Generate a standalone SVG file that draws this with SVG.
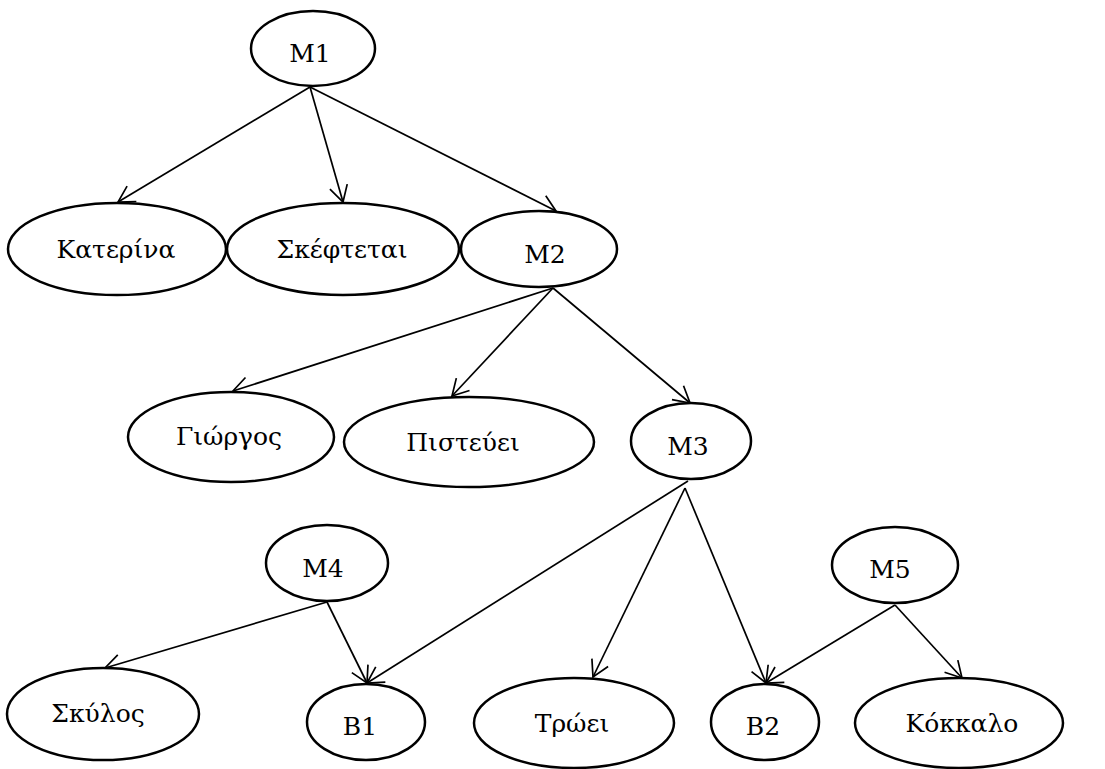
<svg xmlns="http://www.w3.org/2000/svg" width="1105" height="769" viewBox="0 0 1105 769">
  <style>
    .node ellipse { fill: #fff; stroke: #000; stroke-width: 2.5; }
    .node text { font-family: 'DejaVu Serif', serif; font-size: 25px; fill: #000; text-anchor: middle; }
    .edge { stroke: #000; stroke-width: 1.7; fill: none; marker-end: url(#arrow); }
  </style>
  <defs>
    <!-- open V arrowhead, tip placed on the target ellipse -->
    <marker id="arrow" markerUnits="userSpaceOnUse" markerWidth="24" markerHeight="24" refX="16" refY="9" orient="auto" overflow="visible">
      <path d="M0,0 L16,9 L0,18" fill="none" stroke="#000" stroke-width="1.7"/>
    </marker>
  </defs>

  <g id="connectors">
    <line class="edge" x1="310" y1="87" x2="118" y2="202"/>
    <line class="edge" x1="310" y1="87" x2="343" y2="202"/>
    <line class="edge" x1="310" y1="87" x2="556" y2="211"/>
    <line class="edge" x1="553" y1="288" x2="233" y2="391"/>
    <line class="edge" x1="553" y1="288" x2="452" y2="396"/>
    <line class="edge" x1="553" y1="288" x2="690" y2="403"/>
    <line class="edge" x1="688" y1="481" x2="367" y2="683"/>
    <line class="edge" x1="685" y1="488" x2="593" y2="677"/>
    <line class="edge" x1="685" y1="488" x2="766" y2="683"/>
    <line class="edge" x1="327" y1="602" x2="105" y2="668"/>
    <line class="edge" x1="327" y1="602" x2="367" y2="683"/>
    <line class="edge" x1="895" y1="605" x2="766" y2="683"/>
    <line class="edge" x1="895" y1="605" x2="962" y2="678"/>
  </g>

  <g id="M1" class="node"><ellipse cx="313" cy="48.5" rx="62" ry="37.5"/><text x="310" y="62">M1</text></g>
  <g id="Katerina" class="node"><ellipse cx="117" cy="249" rx="109" ry="46"/><text x="116" y="258">Κατερίνα</text></g>
  <g id="Skeftetai" class="node"><ellipse cx="343" cy="249" rx="116" ry="46"/><text x="342" y="258">Σκέφτεται</text></g>
  <g id="M2" class="node"><ellipse cx="539" cy="249" rx="78" ry="38"/><text x="545" y="263">M2</text></g>
  <g id="Giorgos" class="node"><ellipse cx="231" cy="437" rx="103" ry="45"/><text x="229" y="445">Γιώργος</text></g>
  <g id="Pisteuei" class="node"><ellipse cx="469" cy="442" rx="125" ry="45"/><text x="463" y="451">Πιστεύει</text></g>
  <g id="M3" class="node"><ellipse cx="691" cy="441" rx="60" ry="38"/><text x="688" y="455">M3</text></g>
  <g id="M4" class="node"><ellipse cx="327" cy="563" rx="61" ry="38"/><text x="323" y="577">M4</text></g>
  <g id="M5" class="node"><ellipse cx="895" cy="565" rx="63" ry="38"/><text x="890" y="578">M5</text></g>
  <g id="Skylos" class="node"><ellipse cx="103" cy="714" rx="96" ry="46"/><text x="98" y="722">Σκύλος</text></g>
  <g id="B1" class="node"><ellipse cx="366" cy="722" rx="59" ry="38"/><text x="360" y="735">B1</text></g>
  <g id="Troei" class="node"><ellipse cx="574" cy="723" rx="100" ry="45"/><text x="572" y="732">Τρώει</text></g>
  <g id="B2" class="node"><ellipse cx="765" cy="722" rx="54" ry="38"/><text x="763" y="735">B2</text></g>
  <g id="Kokkalo" class="node"><ellipse cx="959" cy="723" rx="104" ry="45"/><text x="962" y="732">Κόκκαλο</text></g>
</svg>
